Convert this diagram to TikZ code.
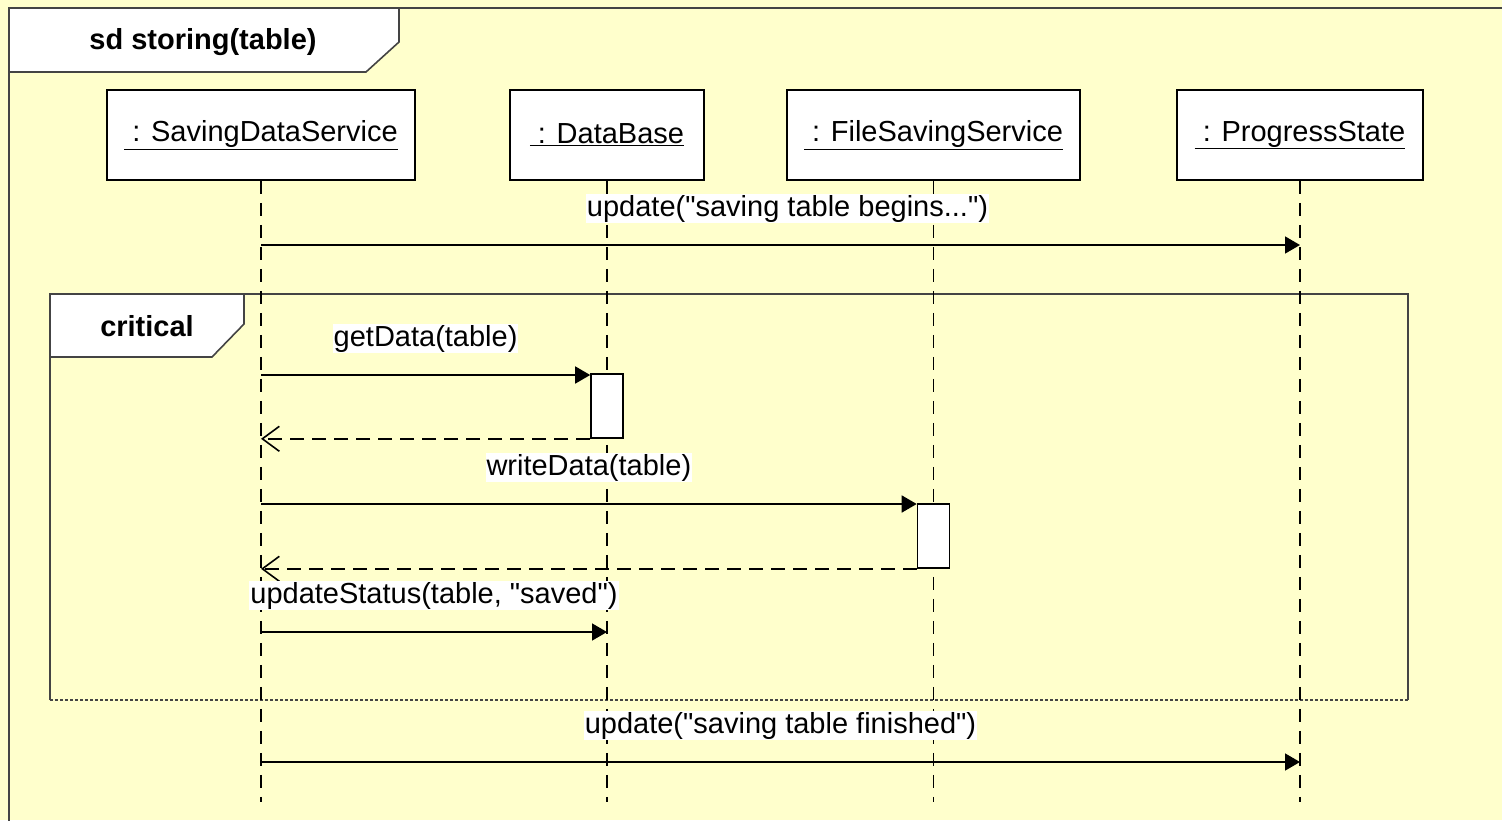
\documentclass[tikz,border=0pt]{standalone}
\usepackage{fontspec}
\setmainfont{Liberation Sans}[Ligatures=TeXOff]
\usetikzlibrary{positioning,arrows.meta}

\definecolor{notepaper}{HTML}{FFFFCC}
\definecolor{framegray}{HTML}{444444}

\begin{document}
\begin{tikzpicture}[x=1pt,y=-1pt,line width=1.6pt,
    font=\fontsize{29}{34}\selectfont,
    head/.style={draw,fill=white,minimum height=90pt,inner sep=0pt},
    act/.style={draw,fill=white,minimum width=32pt,minimum height=64pt,inner sep=0pt},
    life/.style={dash pattern=on 13pt off 9pt},
    call/.style={-{Triangle[length=15pt,width=17pt]}},
    reply/.style={dash pattern=on 14pt off 8pt,-{Straight Barb[length=17pt,width=25pt]}},
    lbl/.style={fill=white,inner sep=1pt,above=21pt,midway}]
    \useasboundingbox (0,0) rectangle (1502,820);
    \clip (0,0) rectangle (1502,820);
    \fill[notepaper] (0,0) rectangle (1502,820);
    \draw[framegray] (9,8) rectangle (1540,860);

    \draw[framegray,fill=white] (9,8) -- (399,8) -- (399,42) -- (366,72) -- (9,72) -- cycle;
    \node[font=\fontsize{29}{34}\selectfont\bfseries] (title) at (203,42) {sd storing(table)};

    \draw[framegray] (50,700) -- (50,294) -- (1408,294) -- (1408,700);
    \draw[framegray,densely dashed] (50,700) -- (1408,700);
    \draw[framegray,fill=white] (50,294) -- (244,294) -- (244,324) -- (212,357) -- (50,357) -- cycle;
    \node[font=\fontsize{29}{34}\selectfont\bfseries] (crit) at (147,326) {critical};

    \draw
        node[head,minimum width=308pt] (sds) at (261,135) {\underline{\ : SavingDataService}}
        node[head,minimum width=194pt,right=93.4pt of sds] (db) {\underline{\ : DataBase}}
        node[head,minimum width=293pt,right=81.4pt of db] (fss) {\underline{\ : FileSavingService}}
        node[head,minimum width=246pt,right=95.4pt of fss] (ps) {\underline{\ : ProgressState}}
    ;

    \coordinate (lend) at (0,802);
    \coordinate (r1) at (0,245);
    \coordinate (r2) at (0,375);
    \coordinate (r3) at (0,504);
    \coordinate (r4) at (0,632);
    \coordinate (r5) at (0,762);

    \draw[life] (sds.south) -- (sds.south |- lend);
    \draw[life] (db.south) -- (db.south |- lend);
    \draw[life] (fss.south) -- (fss.south |- lend);
    \draw[life] (ps.south) -- (ps.south |- lend);

    \node[act] (actdb) at (607,406) {};
    \node[act] (actfs) at (933.5,536) {};

    \draw[call] (sds |- r1) -- (ps |- r1) node[lbl,xshift=7pt] {update("saving table begins...")};
    \draw[call] (sds |- r2) -- (actdb.west |- r2) node[lbl] {getData(table)};
    \draw[reply] (actdb.south west) -- (sds |- actdb.south west);
    \draw[call] (sds |- r3) -- (actfs.west |- r3) node[lbl] {writeData(table)};
    \draw[reply] (actfs.south west) -- (sds |- actfs.south west);
    \draw[call] (sds |- r4) -- (db |- r4) node[lbl] {updateStatus(table, "saved")};
    \draw[call] (sds |- r5) -- (ps |- r5) node[lbl] {update("saving table finished")};
\end{tikzpicture}
\end{document}
